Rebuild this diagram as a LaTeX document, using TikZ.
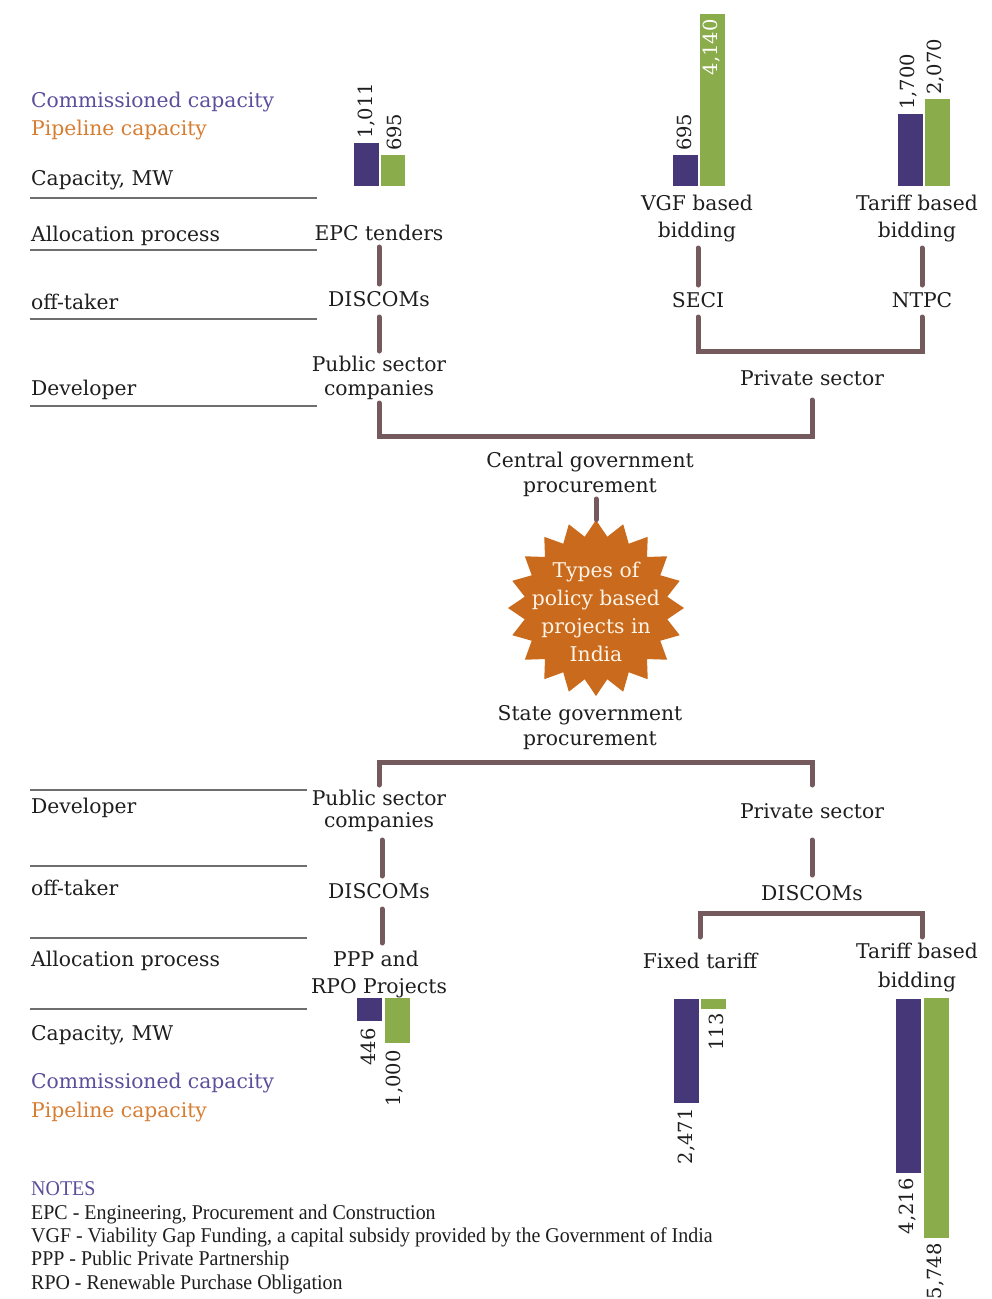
\documentclass[tikz,border=0pt]{standalone}
\usepackage{fontspec}
\setmainfont{DejaVu Serif}
\newfontfamily\notefont[FakeStretch=0.95]{Liberation Serif}
\usetikzlibrary{shapes.geometric}
\definecolor{ink}{HTML}{1E1E1E}
\definecolor{legpurple}{HTML}{5B4E9B}
\definecolor{legorange}{HTML}{D67D32}
\definecolor{barp}{HTML}{453778}
\definecolor{barg}{HTML}{8AAC4A}
\definecolor{connc}{HTML}{745A5C}
\definecolor{rulec}{HTML}{6E6E6E}
\definecolor{starc}{HTML}{C96A1C}
\definecolor{startxt}{HTML}{FFF4E8}
\begin{document}
\begin{tikzpicture}[x=1pt,y=-1pt,
  txt/.style={font=\fontsize{20.3}{25}\selectfont, text=ink, inner sep=0pt, align=center, anchor=base},
  lbl/.style={txt, anchor=base west},
  conn/.style={draw=connc, line width=5pt, line cap=round},
  hrule/.style={draw=rulec, line width=2pt},
  pbar/.style={fill=barp},
  gbar/.style={fill=barg},
  num/.style={font=\fontsize{19.5}{22}\selectfont, text=ink, inner sep=0pt, rotate=90},
  note/.style={font=\notefont\fontsize{21}{23}\selectfont, text=ink, inner sep=0pt, anchor=base west}
]
\useasboundingbox (0,0) rectangle (992,1299);

% ---------- top left labels ----------
\node[lbl, text=legpurple] (legC1) at (31,107) {Commissioned capacity};
\node[lbl, text=legorange] (legP1) at (31,135) {Pipeline capacity};
\node[lbl] (capT) at (31,185) {Capacity, MW};
\node[lbl] (allocT) at (31,241) {Allocation process};
\node[lbl] (offT) at (31,309) {off-taker};
\node[lbl] (devT) at (31,395) {Developer};
\draw[hrule] (30,198) -- (317,198);
\draw[hrule] (30,250) -- (317,250);
\draw[hrule] (30,319) -- (317,319);
\draw[hrule] (30,406) -- (317,406);

% ---------- top bars ----------
\fill[pbar] (354,143) rectangle (379,186);
\fill[gbar] (381,155) rectangle (405,186);
\node[num, anchor=west] (n1011) at (367,139) {1,011};
\node[num, anchor=west] (n695a) at (394,151) {695};

\fill[pbar] (673,155) rectangle (698,186);
\fill[gbar] (700,14) rectangle (725,186);
\node[num, anchor=west] (n695b) at (684,151) {695};
\node[num, anchor=east, text=white] (n4140) at (712,19) {4,140};

\fill[pbar] (898,114) rectangle (923,186);
\fill[gbar] (925,99) rectangle (950,186);
\node[num, anchor=west] (n1700) at (909,110) {1,700};
\node[num, anchor=west] (n2070) at (936,95) {2,070};

% ---------- top tree ----------
\node[txt] (epc) at (379,240) {EPC tenders};
\node[txt] (disc1) at (379,306) {DISCOMs};
\node[txt, font=\fontsize{20.3}{24}\selectfont] (pub1) at (379,395) {Public sector\\companies};
\node[txt, font=\fontsize{20.3}{27}\selectfont] (vgf) at (697,237) {VGF based\\bidding};
\node[txt, font=\fontsize{20.3}{27}\selectfont] (tbb1) at (917,237) {Tariff based\\bidding};
\node[txt] (seci) at (698,307) {SECI};
\node[txt] (ntpc) at (922,307) {NTPC};
\node[txt] (priv1) at (812,385) {Private sector};
\node[txt] (central) at (590,492) {Central government\\procurement};

\draw[conn] (epc.south |- 0,247) -- (epc.south |- 0,284);
\draw[conn] (disc1.south |- 0,317) -- (disc1.south |- 0,351);
\draw[conn] (seci.north |- 0,248) -- (seci.north |- 0,285);
\draw[conn] (ntpc.north |- 0,248) -- (ntpc.north |- 0,285);
\draw[conn, line join=miter] (seci.south |- 0,317) -- (seci.south |- 0,351) -- (ntpc.south |- 0,351) -- (ntpc.south |- 0,317);
\draw[conn, line join=miter] (pub1.south |- 0,403) -- (pub1.south |- 0,436) -- (priv1.south |- 0,436) -- (priv1.south |- 0,400);

% ---------- star ----------
\node[star, star points=20, star point ratio=1.22, minimum size=176pt, inner sep=0pt, fill=starc] (star) at (596,608) {};
\node[txt, text=startxt, anchor=center, font=\fontsize{20.3}{28}\selectfont] (startext) at (596,612) {Types of\\policy based\\projects in\\India};
\draw[conn] (star.north |- 0,499) -- (star.north);

% ---------- bottom tree ----------
\node[txt] (state) at (590,745) {State government\\procurement};
\node[txt, font=\fontsize{20.3}{22}\selectfont] (pub2) at (379,827) {Public sector\\companies};
\node[txt] (disc2) at (379,898) {DISCOMs};
\node[txt, font=\fontsize{20.3}{27}\selectfont] (ppp) at (379,993) {\hspace*{-6pt}PPP and\\RPO Projects};
\node[txt] (priv2) at (812,818) {Private sector};
\node[txt] (disc3) at (812,900) {DISCOMs};
\node[txt] (fixed) at (700,968) {Fixed tariff};
\node[txt, font=\fontsize{20.3}{29}\selectfont] (tbb2) at (917,987) {Tariff based\\bidding};
\coordinate (tbbtop) at (922,913);

\draw[conn, line join=miter] (pub2.north |- 0,785) -- (pub2.north |- 0,762) -- (priv2.north |- 0,762) -- (priv2.north |- 0,785);
\draw[conn] (382,840) coordinate (c1a) -- (c1a |- 0,876);
\draw[conn] (382,909) coordinate (c1b) -- (c1b |- 0,943);
\draw[conn, line join=miter] (fixed.north |- 0,937) -- (fixed.north |- 0,913) -- (tbbtop) -- (tbbtop |- 0,937);
\draw[conn] (priv2.south |- 0,840) -- (priv2.south |- 0,875);

% ---------- bottom left labels ----------
\node[lbl] (devB) at (31,813) {Developer};
\node[lbl] (offB) at (31,895) {off-taker};
\node[lbl] (allocB) at (31,966) {Allocation process};
\node[lbl] (capB) at (31,1040) {Capacity, MW};
\node[lbl, text=legpurple] (legC2) at (31,1088) {Commissioned capacity};
\node[lbl, text=legorange] (legP2) at (31,1117) {Pipeline capacity};
\draw[hrule] (30,790) -- (307,790);
\draw[hrule] (30,866) -- (307,866);
\draw[hrule] (30,938) -- (307,938);
\draw[hrule] (30,1009) -- (307,1009);

% ---------- bottom bars ----------
\fill[pbar] (357,998) rectangle (382,1021);
\fill[gbar] (385,998) rectangle (410,1043);
\node[num, anchor=east] (n446) at (368,1028) {446};
\node[num, anchor=east] (n1000) at (395,1050) {1,000};

\fill[pbar] (674,999) rectangle (699,1103);
\fill[gbar] (701,999) rectangle (726,1009);
\node[num, anchor=east] (n2471) at (687,1108) {2,471};
\node[num, anchor=east] (n113) at (716,1013) {113};

\fill[pbar] (896,999) rectangle (921,1173);
\fill[gbar] (924,998) rectangle (949,1238);
\node[num, anchor=east] (n4216) at (908,1178) {4,216};
\node[num, anchor=east] (n5748) at (936,1243) {5,748};

% ---------- notes ----------
\node[note, text=legpurple] (notes) at (31,1195) {NOTES};
\node[note] (nEPC) at (31,1219) {EPC - Engineering, Procurement and Construction};
\node[note] (nVGF) at (31,1242) {VGF - Viability Gap Funding, a capital subsidy provided by the Government of India};
\node[note] (nPPP) at (31,1265) {PPP - Public Private Partnership};
\node[note] (nRPO) at (31,1289) {RPO - Renewable Purchase Obligation};
\end{tikzpicture}
\end{document}
